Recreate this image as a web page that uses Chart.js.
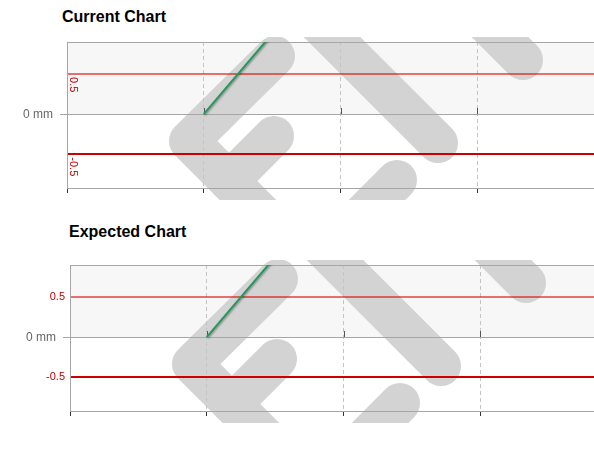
<!DOCTYPE html>
<html>
<head>
<meta charset="utf-8">
<script src="https://cdn.jsdelivr.net/npm/chart.js@4.4.1/dist/chart.umd.min.js"></script>
<style>
  html, body { margin: 0; padding: 0; background: #fff; overflow: hidden; width: 594px; height: 453px; }
  .title { position: absolute; font: bold 16px/16px "Liberation Sans", Arial, sans-serif; color: #000; white-space: nowrap; }
  canvas { position: absolute; left: 0; }
</style>
</head>
<body>
<div class="title" style="left:62px;top:9px">Current Chart</div>
<canvas id="current" width="614" height="163" style="top:37px"></canvas>
<div class="title" style="left:69px;top:224px">Expected Chart</div>
<canvas id="expected" width="617" height="163" style="top:260px"></canvas>
<script>
// chart values
const xTicks = [0, 1, 2, 3, 4];
const seriesX = [1, 2];
const seriesY = [0, 2];
const limitValues = [0.5, -0.5];
const limitLabels = ["0.5", "-0.5"];
const yRange = [-0.92, 0.9];
const zeroLabel = "0 mm";

const FONT = '"Liberation Sans", Arial, sans-serif';
Chart.defaults.font.family = FONT;

// background logo, drawn as thick rounded strokes (relative to plot top-left)
const WATERMARK = [
  [[208, 14], [122, 99], [215, 192]],
  [[207, 94], [162, 139]],
  [[240, -30], [371, 101]],
  [[410, -28], [456, 18]],
  [[330, 138], [290, 178]],
];

const limitColor = v => {
  if (v === 0.5) return "rgba(222,0,0,0.55)";
  if (v === -0.5) return "#cc0000";
  return "#a6a6a6";
};

const decor = {
  id: "decor",
  beforeDraw(chart) {
    const { ctx, chartArea: a, scales: { y } } = chart;
    const y0 = y.getPixelForValue(0);
    ctx.save();
    ctx.fillStyle = "#f7f7f7";
    ctx.fillRect(a.left, a.top, a.right - a.left, y0 - a.top);
    ctx.strokeStyle = "#d3d3d3";
    ctx.lineWidth = 40;
    ctx.lineCap = "round";
    ctx.lineJoin = "round";
    WATERMARK.forEach(path => {
      ctx.beginPath();
      path.forEach(([px, py], i) => {
        if (i) ctx.lineTo(a.left + px, a.top + py);
        else ctx.moveTo(a.left + px, a.top + py);
      });
      ctx.stroke();
    });
    ctx.restore();
  },
  beforeDatasetsDraw(chart, args, opts) {
    const { ctx, scales: { x, y } } = chart;
    const y0 = Math.round(y.getPixelForValue(0));
    ctx.save();
    ctx.strokeStyle = "#555";
    ctx.lineWidth = 1;
    xTicks.slice(1).forEach(v => {
      const px = Math.round(x.getPixelForValue(v)) + 0.5;
      ctx.beginPath();
      ctx.moveTo(px, y0 - 6);
      ctx.lineTo(px, y0);
      ctx.stroke();
    });
    ctx.fillStyle = "#c00000";
    ctx.font = "11px " + FONT;
    limitValues.forEach((v, i) => {
      const py = y.getPixelForValue(v);
      if (opts.rotated) {
        ctx.save();
        ctx.translate(x.left + 3, py + 3);
        ctx.rotate(Math.PI / 2);
        ctx.textAlign = "left";
        ctx.textBaseline = "alphabetic";
        ctx.fillText(limitLabels[i], 0, 0);
        ctx.restore();
      } else {
        ctx.textAlign = "right";
        ctx.textBaseline = "middle";
        ctx.fillText(limitLabels[i], x.left - 5, py);
      }
    });
    ctx.restore();
  },
  beforeDatasetDraw(chart) {
    const ctx = chart.ctx;
    ctx.save();
    ctx.shadowColor = "rgba(0,0,0,0.35)";
    ctx.shadowOffsetX = 1;
    ctx.shadowOffsetY = 1;
    ctx.shadowBlur = 2;
  },
  afterDatasetDraw(chart) {
    chart.ctx.restore();
  },
};

function makeChart(id, axisWidth, rotated) {
  const ctx = document.getElementById(id).getContext("2d");
  return new Chart(ctx, {
    type: "line",
    data: {
      datasets: [{
        data: seriesX.map((x, i) => ({ x, y: seriesY[i] })),
        borderColor: "#22995a",
        borderWidth: 2,
        pointRadius: 0,
        tension: 0,
      }],
    },
    options: {
      responsive: false,
      animation: false,
      layout: { padding: { top: 5, bottom: 7, left: 0, right: 0 } },
      plugins: { legend: { display: false }, tooltip: { enabled: false }, decor: { rotated } },
      scales: {
        x: {
          type: "linear",
          min: xTicks[0],
          max: xTicks[xTicks.length - 1],
          afterBuildTicks: s => { s.ticks = xTicks.map(v => ({ value: v })); },
          afterFit: s => { s.paddingLeft = 0; s.paddingRight = 0; },
          border: { display: true, color: "#a6a6a6", dash: [4, 3] },
          grid: {
            color: c => (c.tick && c.tick.value === xTicks[0] ? "rgba(0,0,0,0)" : "#c4c4c4"),
            tickColor: "#333",
            tickLength: 5,
          },
          ticks: { display: false },
        },
        y: {
          type: "linear",
          min: yRange[0],
          max: yRange[1],
          afterBuildTicks: s => {
            s.ticks = [yRange[0], ...limitValues, 0, yRange[1]]
              .sort((a, b) => a - b)
              .map(v => ({ value: v }));
          },
          afterFit: s => {
            s.width = axisWidth;
            s.paddingTop = 0;
            s.paddingBottom = 0;
          },
          border: { display: true, color: "#a6a6a6" },
          grid: {
            color: c => limitColor(c.tick ? c.tick.value : null),
            lineWidth: c => (c.tick && limitValues.includes(c.tick.value) ? 2 : 1),
            tickColor: c => (c.tick && c.tick.value === 0 ? "#a6a6a6" : "rgba(0,0,0,0)"),
            tickLength: 7,
          },
          ticks: {
            padding: 7,
            color: "#666",
            font: { size: 12 },
            autoSkip: false,
            callback: v => (v === 0 ? zeroLabel : ""),
          },
        },
      },
    },
    plugins: [decor],
  });
}

makeChart("current", 67, true);
makeChart("expected", 70, false);
</script>
</body>
</html>
